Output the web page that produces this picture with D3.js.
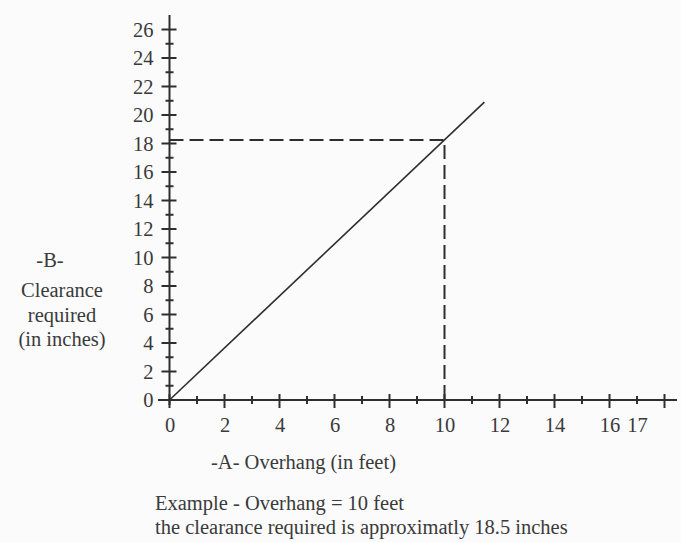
<!DOCTYPE html>
<html>
<head>
<meta charset="utf-8">
<script src="https://cdn.jsdelivr.net/npm/d3@7"></script>
<style>
  html, body { margin: 0; padding: 0; background: #fbfbfb; }
  svg { display: block; }
  text { font-family: "Liberation Serif", "DejaVu Serif", serif; fill: #3a3a3a; }
</style>
</head>
<body>
<svg id="chart" width="681" height="542"></svg>
<script>
// overhang (feet) vs clearance (inches)
const overhangFeet = [0, 11.45];
const clearanceInches = [0, 20.9];
const exampleOverhang = 10;
const exampleClearance = 18.25;

const xTickValues = d3.range(0, 19);
const xLabelValues = [0, 2, 4, 6, 8, 10, 12, 14, 16, 17];
const yTickValues = d3.range(0, 27);
const yLabelValues = d3.range(0, 27, 2);

const ink = "#2e2e2e";
const svg = d3.select("#chart");

const x = d3.scaleLinear().domain([0, 18]).range([169.5, 664.5]);
const y = d3.scaleLinear().domain([0, 26]).range([400, 29.5]);

// axis lines
svg.append("line")
  .attr("x1", 158).attr("x2", 677)
  .attr("y1", y(0)).attr("y2", y(0))
  .attr("stroke", ink).attr("stroke-width", 2);
svg.append("line")
  .attr("x1", x(0)).attr("x2", x(0))
  .attr("y1", 15).attr("y2", 405)
  .attr("stroke", ink).attr("stroke-width", 2);

// crossing ticks
svg.append("g").selectAll("line")
  .data(xTickValues)
  .join("line")
  .attr("x1", d => x(d)).attr("x2", d => x(d))
  .attr("y1", d => y(0) - (d % 2 === 0 ? 6 : 4))
  .attr("y2", d => y(0) + (d % 2 === 0 ? 8 : 4))
  .attr("stroke", ink).attr("stroke-width", 2);

svg.append("g").selectAll("line")
  .data(yTickValues)
  .join("line")
  .attr("y1", d => y(d)).attr("y2", d => y(d))
  .attr("x1", d => x(0) - (d % 2 === 0 ? 8 : 4))
  .attr("x2", d => x(0) + (d % 2 === 0 ? 7 : 4))
  .attr("stroke", ink).attr("stroke-width", 2);

// labels through d3 axes (no lines of their own)
const xAxis = svg.append("g")
  .attr("transform", `translate(0,${y(0)})`)
  .call(d3.axisBottom(x).tickValues(xLabelValues).tickSize(0).tickPadding(17));
const yAxis = svg.append("g")
  .attr("transform", `translate(${x(0)},0)`)
  .call(d3.axisLeft(y).tickValues(yLabelValues).tickSize(0).tickPadding(16));
[xAxis, yAxis].forEach(g => {
  g.attr("font-size", 20.5).attr("font-family", "Liberation Serif");
  g.select(".domain").remove();
  g.selectAll("text").attr("fill", "#3a3a3a");
});

// dashed example guides
svg.append("path")
  .attr("d", `M${x(0)},${y(exampleClearance)}H${x(exampleOverhang)}V${y(0)}`)
  .attr("fill", "none")
  .attr("stroke", ink).attr("stroke-width", 2)
  .attr("stroke-dasharray", "14,6");

// clearance line
const line = d3.line()
  .x((d, i) => x(overhangFeet[i]))
  .y(d => y(d));
svg.append("path")
  .datum(clearanceInches)
  .attr("d", line)
  .attr("fill", "none")
  .attr("stroke", ink).attr("stroke-width", 1.6);

// y axis title
const yTitle = svg.append("g").attr("font-size", 20.5).attr("text-anchor", "middle");
yTitle.append("text").attr("x", 50).attr("y", 267).text("-B-");
yTitle.append("text").attr("x", 62).attr("y", 297).text("Clearance");
yTitle.append("text").attr("x", 62).attr("y", 322).text("required");
yTitle.append("text").attr("x", 62).attr("y", 346).text("(in inches)");

// x axis title and note
const notes = svg.append("g").attr("font-size", 20.5);
notes.append("text").attr("x", 211).attr("y", 469).text("-A- Overhang (in feet)");
notes.append("text").attr("x", 155).attr("y", 510).text("Example - Overhang = 10 feet");
notes.append("text").attr("x", 155).attr("y", 534).text("the clearance required is approximatly 18.5 inches");
</script>
</body>
</html>
